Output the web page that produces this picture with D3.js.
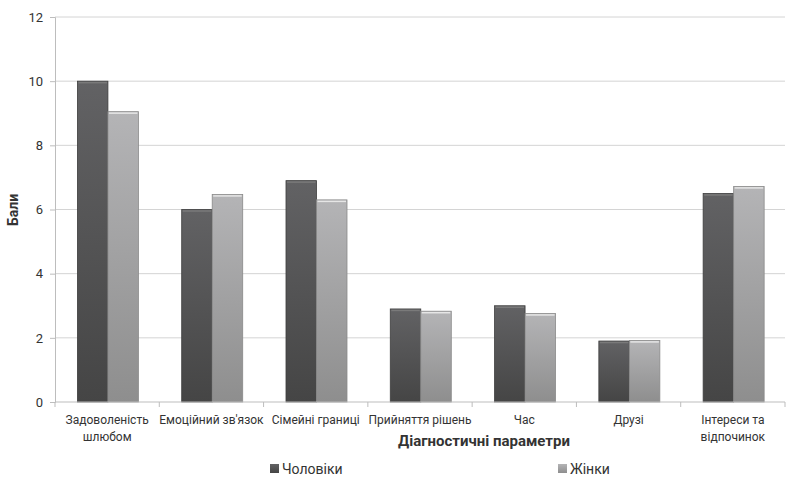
<!DOCTYPE html>
<html>
<head>
<meta charset="utf-8">
<script src="https://cdn.jsdelivr.net/npm/d3@7"></script>
<style>
  body { margin: 0; background: #fff; }
  text { font-family: Roboto, "Open Sans", sans-serif; fill: #333; }
</style>
</head>
<body>
<div id="app"></div>
<script>
'use strict'
const categories = [
  ['Задоволеність', 'шлюбом'],
  ['Емоційний зв\'язок'],
  ['Сімейні границі'],
  ['Прийняття рішень'],
  ['Час'],
  ['Друзі'],
  ['Інтереси та', 'відпочинок']
]
const men = [10, 6.0, 6.9, 2.9, 3.0, 1.9, 6.5]
const women = [9.05, 6.47, 6.3, 2.83, 2.76, 1.92, 6.72]
const seriesNames = ['Чоловіки', 'Жінки']
const yTicks = [0, 2, 4, 6, 8, 10, 12]

const W = 793, H = 477
const margin = { top: 17, right: 8, bottom: 75, left: 55 }
const width = W - margin.left - margin.right
const height = H - margin.top - margin.bottom

const svg = d3.select('#app').append('svg')
  .attr('width', W)
  .attr('height', H)

const defs = svg.append('defs')
const grads = [
  { id: 'gMen', top: '#626264', bottom: '#454545' },
  { id: 'gWomen', top: '#b4b4b6', bottom: '#8e8e8e' }
]
grads.forEach(g => {
  const lg = defs.append('linearGradient').attr('id', g.id)
    .attr('x1', 0).attr('y1', 0).attr('x2', 0).attr('y2', 1)
  lg.append('stop').attr('offset', '0%').attr('stop-color', g.top)
  lg.append('stop').attr('offset', '100%').attr('stop-color', g.bottom)
})

const g = svg.append('g')
  .attr('transform', `translate(${margin.left},${margin.top})`)

const x = d3.scaleBand()
  .domain(d3.range(categories.length))
  .range([0, width])

const xs = d3.scaleBand()
  .domain([0, 1])
  .range([x.bandwidth() * 0.215, x.bandwidth() * 0.8])

const y = d3.scaleLinear().domain([0, 12]).range([height, 0])

// gridlines
g.selectAll('.grid').data(yTicks.slice(1))
  .enter().append('line')
  .attr('x1', 0).attr('x2', width)
  .attr('y1', d => y(d)).attr('y2', d => y(d))
  .attr('stroke', '#d4d4d4').attr('stroke-width', 1)

// y axis
const yAxis = g.append('g')
  .call(d3.axisLeft(y).tickValues(yTicks).tickSize(5).tickPadding(7).tickFormat(d3.format('d')))
yAxis.select('.domain').attr('stroke', '#bdbdbd')
yAxis.selectAll('.tick line').attr('stroke', '#bdbdbd')
yAxis.selectAll('.tick text').style('font-size', '13px').attr('fill', '#333')

// bars
const groups = g.selectAll('.cat').data(categories.map((c, i) => i))
  .enter().append('g')
  .attr('transform', i => `translate(${x(i)},0)`)

const vals = [men, women]
const fills = ['url(#gMen)', 'url(#gWomen)']
const edges = ['#3e3e3e', '#8a8a8a']
groups.each(function (i) {
  const gg = d3.select(this)
  vals.forEach((v, s) => {
    gg.append('rect')
      .attr('x', xs(s))
      .attr('y', y(v[i]))
      .attr('width', xs.bandwidth())
      .attr('height', height - y(v[i]))
      .attr('fill', fills[s])
      .attr('stroke', edges[s])
      .attr('stroke-width', 0.8)
    gg.append('line')
      .attr('x1', xs(s) + 1).attr('x2', xs(s) + xs.bandwidth() - 1)
      .attr('y1', y(v[i]) + 1.5).attr('y2', y(v[i]) + 1.5)
      .attr('stroke', s === 0 ? '#7a7a7a' : '#e6e6e6')
      .attr('stroke-width', 1.5)
  })
})

// x axis
const xAxis = g.append('g')
  .attr('transform', `translate(0,${height})`)
xAxis.append('line')
  .attr('x1', 0).attr('x2', width)
  .attr('stroke', '#bdbdbd')
xAxis.selectAll('.tk').data(d3.range(categories.length + 1))
  .enter().append('line')
  .attr('x1', i => i * x.step()).attr('x2', i => i * x.step())
  .attr('y1', 0).attr('y2', 5)
  .attr('stroke', '#bdbdbd')

xAxis.selectAll('.lbl').data(categories)
  .enter().append('text')
  .attr('text-anchor', 'middle')
  .attr('transform', (d, i) => `translate(${x(i) + x.bandwidth() / 2},22)`)
  .style('font-size', '12px')
  .each(function (lines) {
    d3.select(this).selectAll('tspan').data(lines)
      .enter().append('tspan')
      .attr('x', 0)
      .attr('dy', (d, k) => k === 0 ? 0 : 17)
      .text(d => d)
  })

// axis titles
svg.append('text')
  .attr('x', 484).attr('y', 446)
  .attr('text-anchor', 'middle')
  .style('font-size', '15px').style('font-weight', 'bold')
  .attr('fill', '#222')
  .text('Діагностичні параметри')

svg.append('text')
  .attr('transform', 'translate(18,210) rotate(-90)')
  .attr('text-anchor', 'middle')
  .style('font-size', '14px').style('font-weight', 'bold')
  .attr('fill', '#222')
  .text('Бали')

// legend
const legendX = [270, 558]
const legend = svg.selectAll('.leg').data(seriesNames)
  .enter().append('g')
  .attr('transform', (d, i) => `translate(${legendX[i]},464)`)
legend.append('rect')
  .attr('width', 9).attr('height', 9)
  .attr('fill', (d, i) => fills[i])
legend.append('text')
  .attr('x', 12).attr('y', 9.5)
  .style('font-size', '14px')
  .text(d => d)
</script>
</body>
</html>
